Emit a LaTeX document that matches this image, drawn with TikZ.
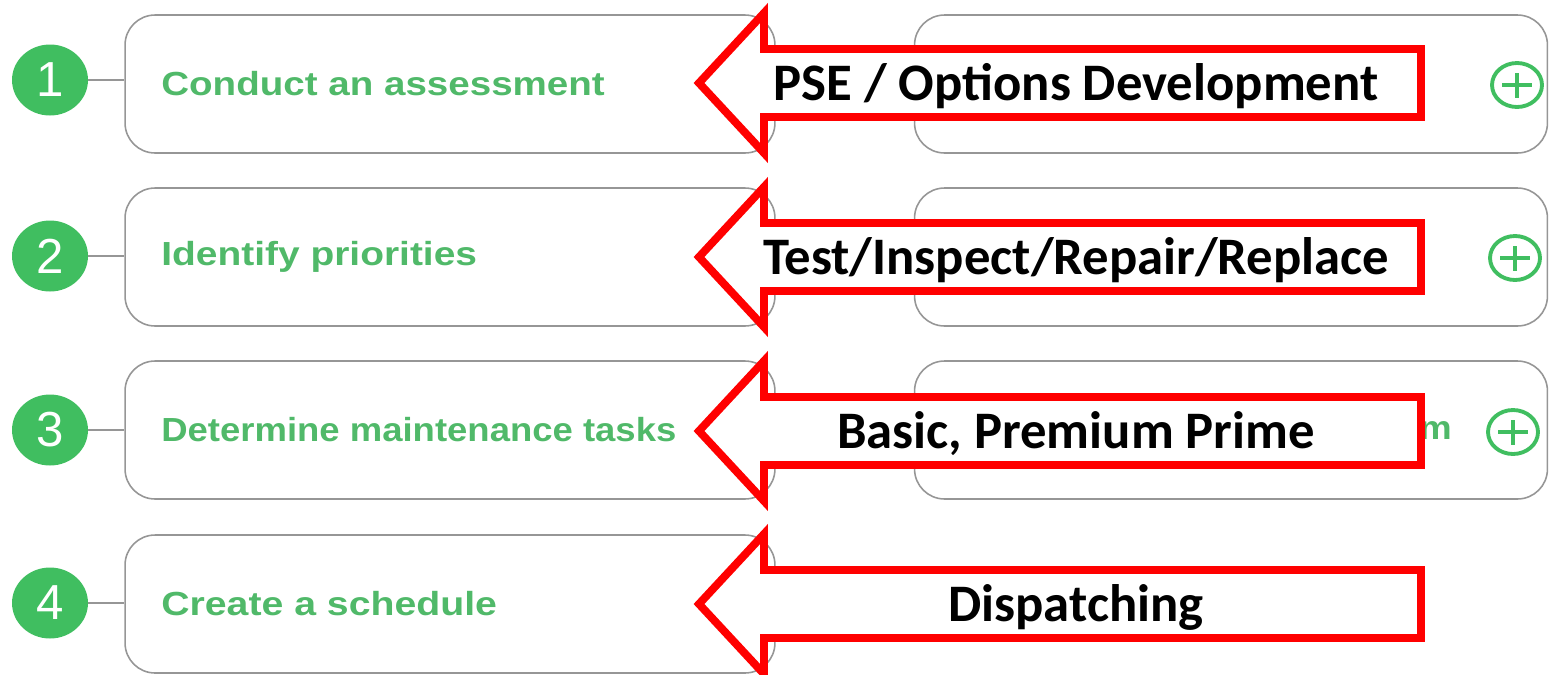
\documentclass[tikz,border=0pt]{standalone}
\usepackage{fontspec}
\setmainfont{Liberation Sans}
\newfontfamily\calibri{Carlito}
\usetikzlibrary{shapes.geometric}
\definecolor{dotgreen}{RGB}{64,190,96}
\definecolor{txtgreen}{RGB}{80,185,105}
\definecolor{boxgray}{RGB}{150,150,150}
\definecolor{arrowred}{RGB}{255,0,0}
\begin{document}
\begin{tikzpicture}[x=0.02cm, y=-0.02cm,
    numdot/.style={ellipse, fill=dotgreen, text=white, inner sep=0,
      minimum width=1.52cm, minimum height=1.42cm, font=\fontsize{28}{28}\selectfont},
    stepbox/.style={draw=boxgray, line width=0.9pt, rounded corners=0.6cm,
      minimum height=2.76cm},
    steptext/.style={text=txtgreen, inner sep=0, anchor=west,
      font=\bfseries\fontsize{19}{23}\selectfont},
    plusmark/.style={ellipse, draw=dotgreen, line width=2.2pt, inner sep=0,
      minimum width=1cm, minimum height=0.88cm,
      path picture={\draw[dotgreen, line width=1.8pt]
        (path picture bounding box.center) +(-0.3cm,0) -- +(0.3cm,0)
        (path picture bounding box.center) +(0,-0.25cm) -- +(0,0.25cm);}},
    redarrow/.style={draw=arrowred, fill=white, line width=4.5pt, miter limit=10},
    arrowtext/.style={anchor=base, inner sep=0,
      font=\calibri\bfseries\fontsize{30}{30}\selectfont}]
  \useasboundingbox (0,0) rectangle (1549,674);

  % step boxes on the left
  \node[stepbox, minimum width=13cm] (box1) at (450,84) {};
  \node[stepbox, minimum width=13cm] (box2) at (450,257) {};
  \node[stepbox, minimum width=13cm] (box3) at (450,430) {};
  \node[stepbox, minimum width=13cm] (box4) at (450,604) {};

  % boxes on the right
  \node[stepbox, minimum width=12.66cm] (side1) at (1231,84) {};
  \node[stepbox, minimum width=12.66cm] (side2) at (1231,257) {};
  \node[stepbox, minimum width=12.66cm] (side3) at (1231,430) {};

  % numbered dots
  \node[numdot] (n1) at (50,80) {1};
  \node[numdot] (n2) at (50,256) {2};
  \node[numdot] (n3) at (50,430) {3};
  \node[numdot] (n4) at (50,603) {4};
  \begin{scope}[draw=boxgray, line width=0.9pt]
    \draw (n1.east) -- (n1.east -| box1.west);
    \draw (n2.east) -- (n2.east -| box2.west);
    \draw (n3.east) -- (n3.east -| box3.west);
    \draw (n4.east) -- (n4.east -| box4.west);
  \end{scope}

  % step texts
  \node[steptext] (t1) at (161,84) {\scalebox{1.155}[1]{Conduct an assessment}};
  \node[steptext] (t2) at (161,257) {\scalebox{1.166}[1]{Identify priorities}};
  \node[steptext] (t3) at (161,430) {\scalebox{1.093}[1]{Determine maintenance tasks}};
  \node[steptext] (t4) at (161,604) {\scalebox{1.175}[1]{Create a schedule}};
  \node[steptext, anchor=east] (t5) at (1452,430) {\scalebox{1.1}[1]{m}};

  % plus signs
  \node[plusmark] (p1) at (1517,85) {};
  \node[plusmark] (p2) at (1515,258) {};
  \node[plusmark] (p3) at (1513,432) {};

  % red arrows
  \foreach \c in {83,257,431,604}
    \draw[redarrow] (699,\c) -- (764,\c-70) -- (764,\c-34) -- (1421,\c-34)
      -- (1421,\c+34) -- (764,\c+34) -- (764,\c+70) -- cycle;
  \node[arrowtext] (a1) at (1076,100) {PSE / Options Development};
  \node[arrowtext] (a2) at (1076,274) {Test/Inspect/Repair/Replace};
  \node[arrowtext] (a3) at (1076,448) {Basic, Premium Prime};
  \node[arrowtext] (a4) at (1076,621) {Dispatching};
\end{tikzpicture}
\end{document}
